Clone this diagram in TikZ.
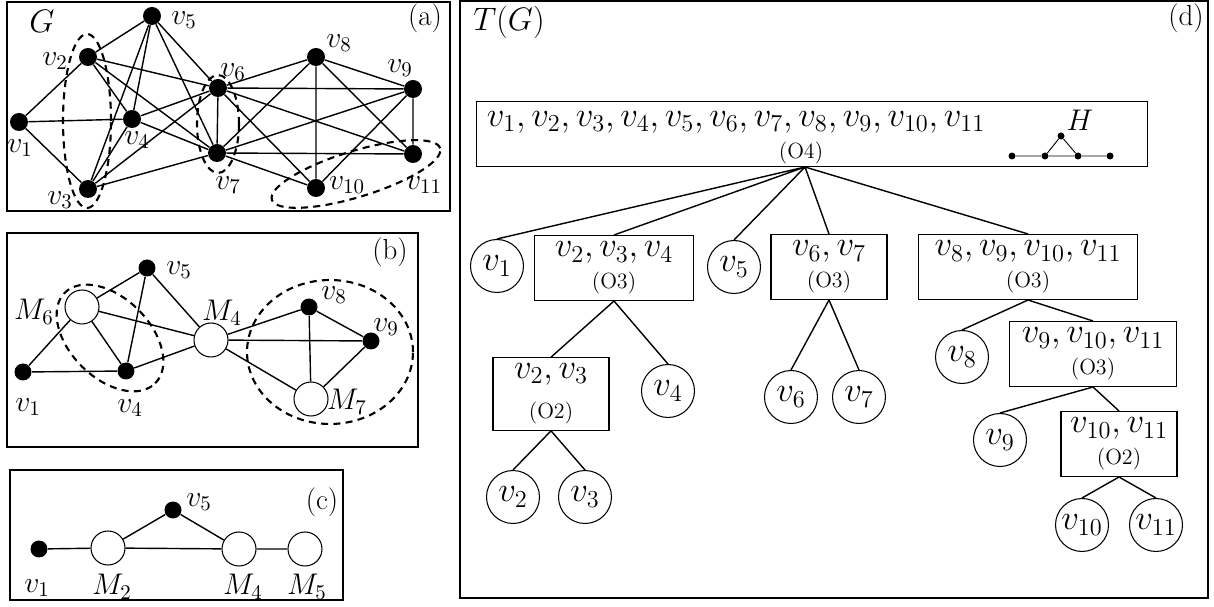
\documentclass[tikz,border=0pt]{standalone}
\usepackage{fix-cm}
\usepackage{amsmath}
\usepackage{tikz}

\newcommand{\treefont}{\fontsize{19.8}{21}\selectfont}
\newcommand{\opfont}{\fontsize{12.5}{14}\selectfont}
\newcommand{\lblfont}{\fontsize{17}{20}\selectfont}
\newcommand{\tagfont}{\fontsize{16.5}{19}\selectfont}
\newcommand{\capfont}{\fontsize{18.5}{21}\selectfont}

\begin{document}
\begin{tikzpicture}[x=0.02cm, y=-0.02cm,
  vdot/.style={circle, fill=black, inner sep=0pt, minimum size=0.36cm},
  mod/.style={circle, draw, fill=white, line width=0.6pt, inner sep=0pt, minimum size=0.68cm},
  gline/.style={line width=0.8pt},
  lbl/.style={inner sep=0pt, font=\lblfont},
  grp/.style={line width=1.2pt, dash pattern=on 4pt off 3pt},
  panel/.style={line width=1.5pt},
  tbox/.style={draw, line width=0.6pt, align=center, inner xsep=0.1cm, minimum height=1.3cm, font=\treefont},
  tleaf/.style={circle, draw, line width=0.6pt, inner sep=0pt, minimum size=1.06cm, font=\treefont},
  tline/.style={line width=0.8pt},
  hdot/.style={circle, fill=black, inner sep=0pt, minimum size=0.14cm}]
\useasboundingbox (0,0) rectangle (1214,607);

% (a)
\draw[panel] (7,2) rectangle (450,211);
\node[font=\capfont, inner sep=0pt] (capG) at (42,21) {$G$};
\node[font=\tagfont] (taga) at (425,18) {(a)};
\node[vdot] (a1) at (19,122) {};
\node[vdot] (a2) at (88,57) {};
\node[vdot] (a3) at (88,189) {};
\node[vdot] (a4) at (132,119) {};
\node[vdot] (a5) at (152,16) {};
\node[vdot] (a6) at (218,88) {};
\node[vdot] (a7) at (217,153) {};
\node[vdot] (a8) at (316,57) {};
\node[vdot] (a9) at (413,89) {};
\node[vdot] (a10) at (316,188) {};
\node[vdot] (a11) at (413,154) {};
\node[lbl] (la1) at (20,148) {$v_1$};
\node[lbl] (la2) at (55,61) {$v_2$};
\node[lbl] (la3) at (60,200) {$v_3$};
\node[lbl] (la4) at (137,140) {$v_4$};
\node[lbl] (la5) at (184,20) {$v_5$};
\node[lbl] (la6) at (233,72) {$v_6$};
\node[lbl] (la7) at (228,185) {$v_7$};
\node[lbl] (la8) at (339,43) {$v_8$};
\node[lbl] (la9) at (400,68) {$v_9$};
\node[lbl] (la10) at (347,185) {$v_{10}$};
\node[lbl] (la11) at (424,185) {$v_{11}$};
\draw[gline] (a1) -- (a2) (a1) -- (a3) (a1) -- (a4);
\draw[gline] (a2) -- (a5) (a2) -- (a4) (a2) -- (a6) (a2) -- (a7);
\draw[gline] (a3) -- (a5) (a3) -- (a4) (a3) -- (a6) (a3) -- (a7);
\draw[gline] (a4) -- (a5) (a4) -- (a6) (a4) -- (a7);
\draw[gline] (a5) -- (a6) (a5) -- (a7);
\draw[gline] (a6) -- (a7) (a6) -- (a8) (a6) -- (a9) (a6) -- (a10) (a6) -- (a11);
\draw[gline] (a7) -- (a8) (a7) -- (a9) (a7) -- (a10) (a7) -- (a11);
\draw[gline] (a8) -- (a9) (a8) -- (a10) (a8) -- (a11);
\draw[gline] (a9) -- (a10) (a9) -- (a11);
\draw[grp] (87,121) ellipse [x radius=0.48cm, y radius=1.74cm];
\draw[grp] (218,124) ellipse [x radius=0.42cm, y radius=0.98cm];
\draw[grp] (356,174) circle [x radius=1.76cm, y radius=0.46cm, rotate=17];

% (b)
\draw[panel] (7,233) rectangle (418,447);
\node[font=\tagfont] (tagb) at (390,252) {(b)};
\node[vdot, minimum size=0.34cm] (b1) at (23,372) {};
\node[mod] (bm6) at (82,307) {};
\node[vdot, minimum size=0.34cm] (b5) at (147,268) {};
\node[vdot, minimum size=0.34cm] (b4) at (126,371) {};
\node[mod] (bm4) at (211,340) {};
\node[vdot, minimum size=0.34cm] (b8) at (309,307) {};
\node[vdot, minimum size=0.34cm] (b9) at (371,341) {};
\node[mod] (bm7) at (311,399) {};
\node[lbl] (lb1) at (28,407) {$v_1$};
\node[lbl] (lb4) at (130,408) {$v_4$};
\node[lbl] (lb5) at (179,270) {$v_5$};
\node[lbl] (lbm6) at (34,312) {$M_6$};
\node[lbl] (lbm4) at (222,313) {$M_4$};
\node[lbl] (lb8) at (334,295) {$v_8$};
\node[lbl] (lb9) at (386,327) {$v_9$};
\node[lbl] (lbm7) at (347,402) {$M_7$};
\draw[gline] (b1) -- (bm6) (b1) -- (b4);
\draw[gline] (bm6) -- (b5) (bm6) -- (b4) (bm6) -- (bm4);
\draw[gline] (b5) -- (b4) (b5) -- (bm4) (b4) -- (bm4);
\draw[gline] (bm4) -- (b8) (bm4) -- (b9) (bm4) -- (bm7);
\draw[gline] (b8) -- (b9) (b8) -- (bm7) (b9) -- (bm7);
\draw[grp] (110,338) circle [x radius=1.28cm, y radius=0.8cm, rotate=-45];
\draw[grp] (330,352) ellipse [x radius=1.66cm, y radius=1.44cm];

% (c)
\draw[panel] (10,470) rectangle (343,600);
\node[font=\tagfont] (tagc) at (322,502) {(c)};
\node[vdot, minimum size=0.34cm] (c1) at (39,549) {};
\node[mod] (cm2) at (108,548) {};
\node[vdot, minimum size=0.34cm] (c5) at (173,510) {};
\node[mod] (cm4) at (239,549) {};
\node[mod] (cm5) at (305,549) {};
\node[lbl] (lc1) at (37,588) {$v_1$};
\node[lbl] (lcm2) at (112,587) {$M_2$};
\node[lbl] (lc5) at (199,502) {$v_5$};
\node[lbl] (lcm4) at (243,587) {$M_4$};
\node[lbl] (lcm5) at (307,587) {$M_5$};
\draw[gline] (c1) -- (cm2) (cm2) -- (c5) (c5) -- (cm4) (cm2) -- (cm4) (cm4) -- (cm5);

% (d)
\draw[panel] (460,1) rectangle (1208,598);
\node[font=\capfont] (capT) at (509,22) {$T(G)$};
\node[font=\tagfont] (tagd) at (1186,18) {(d)};
\node[draw, line width=0.7pt, minimum width=13.42cm, minimum height=1.3cm] (root) at (812,134) {};
\node[font=\treefont] (rootset) at (736,122) {$v_1, v_2, v_3, v_4, v_5, v_6, v_7, v_8, v_9, v_{10}, v_{11}$};
\node[font=\opfont] (rootop) at (801,153) {(O4)};
\node[font=\lblfont] (lH) at (1080,120) {$H$};
\node[hdot] (h1) at (1012,156) {};
\node[hdot] (h2) at (1045,156) {};
\node[hdot] (h3) at (1061,136) {};
\node[hdot] (h4) at (1078,156) {};
\node[hdot] (h5) at (1110,156) {};
\draw[line width=0.5pt] (h1) -- (h2) -- (h4) -- (h5) (h2) -- (h3) -- (h4);
\coordinate (rootb) at (805,167);

\node[tleaf] (t1) at (497,266) {$v_1$};
\node[tbox, minimum width=3.18cm] (t234) at (614,268) {$v_2, v_3, v_4$\\[-3pt]{\opfont (O3)}};
\node[tleaf] (t5) at (734,267) {$v_5$};
\node[tbox, minimum width=2.32cm] (t67) at (829,267) {$v_6, v_7$\\[-3pt]{\opfont (O3)}};
\node[tbox, minimum width=4.38cm] (t8911) at (1028,267) {$v_8, v_9, v_{10}, v_{11}$\\[-3pt]{\opfont (O3)}};
\node[tbox, minimum width=2.32cm] (t23) at (551,394) {$v_2, v_3$\\[2pt]{\opfont (O2)}};
\node[tleaf] (t4) at (668,391) {$v_4$};
\node[tleaf] (t6) at (791,397) {$v_6$};
\node[tleaf] (t7) at (859,397) {$v_7$};
\node[tleaf] (t8) at (962,357) {$v_8$};
\node[tbox, minimum width=3.34cm] (t911) at (1093,354) {$v_9, v_{10}, v_{11}$\\[-3pt]{\opfont (O3)}};
\node[tleaf] (t2) at (513,497) {$v_2$};
\node[tleaf] (t3) at (585,497) {$v_3$};
\node[tleaf] (t9) at (1000,440) {$v_9$};
\node[tbox, minimum width=2.32cm] (t1011) at (1119,444) {$v_{10}, v_{11}$\\[-3pt]{\opfont (O2)}};
\node[tleaf] (t10) at (1082,525) {$v_{10}$};
\node[tleaf] (t11) at (1156,525) {$v_{11}$};

\draw[tline] (rootb) -- (t1.north) (rootb) -- (t234.north) (rootb) -- (t5.north) (rootb) -- (t67.north) (rootb) -- (t8911.north);
\draw[tline] (t234.south) -- (t23.north) (t234.south) -- (t4.north);
\draw[tline] (t23.south) -- (t2.north) (t23.south) -- (t3.north);
\draw[tline] (t67.south) -- (t6.north) (t67.south) -- (t7.north);
\draw[tline] (t8911.south) -- (t8.north) (t8911.south) -- (t911.north);
\draw[tline] (t911.south) -- (t9.north) (t911.south) -- (t1011.north);
\draw[tline] (t1011.south) -- (t10.north) (t1011.south) -- (t11.north);
\end{tikzpicture}
\end{document}
